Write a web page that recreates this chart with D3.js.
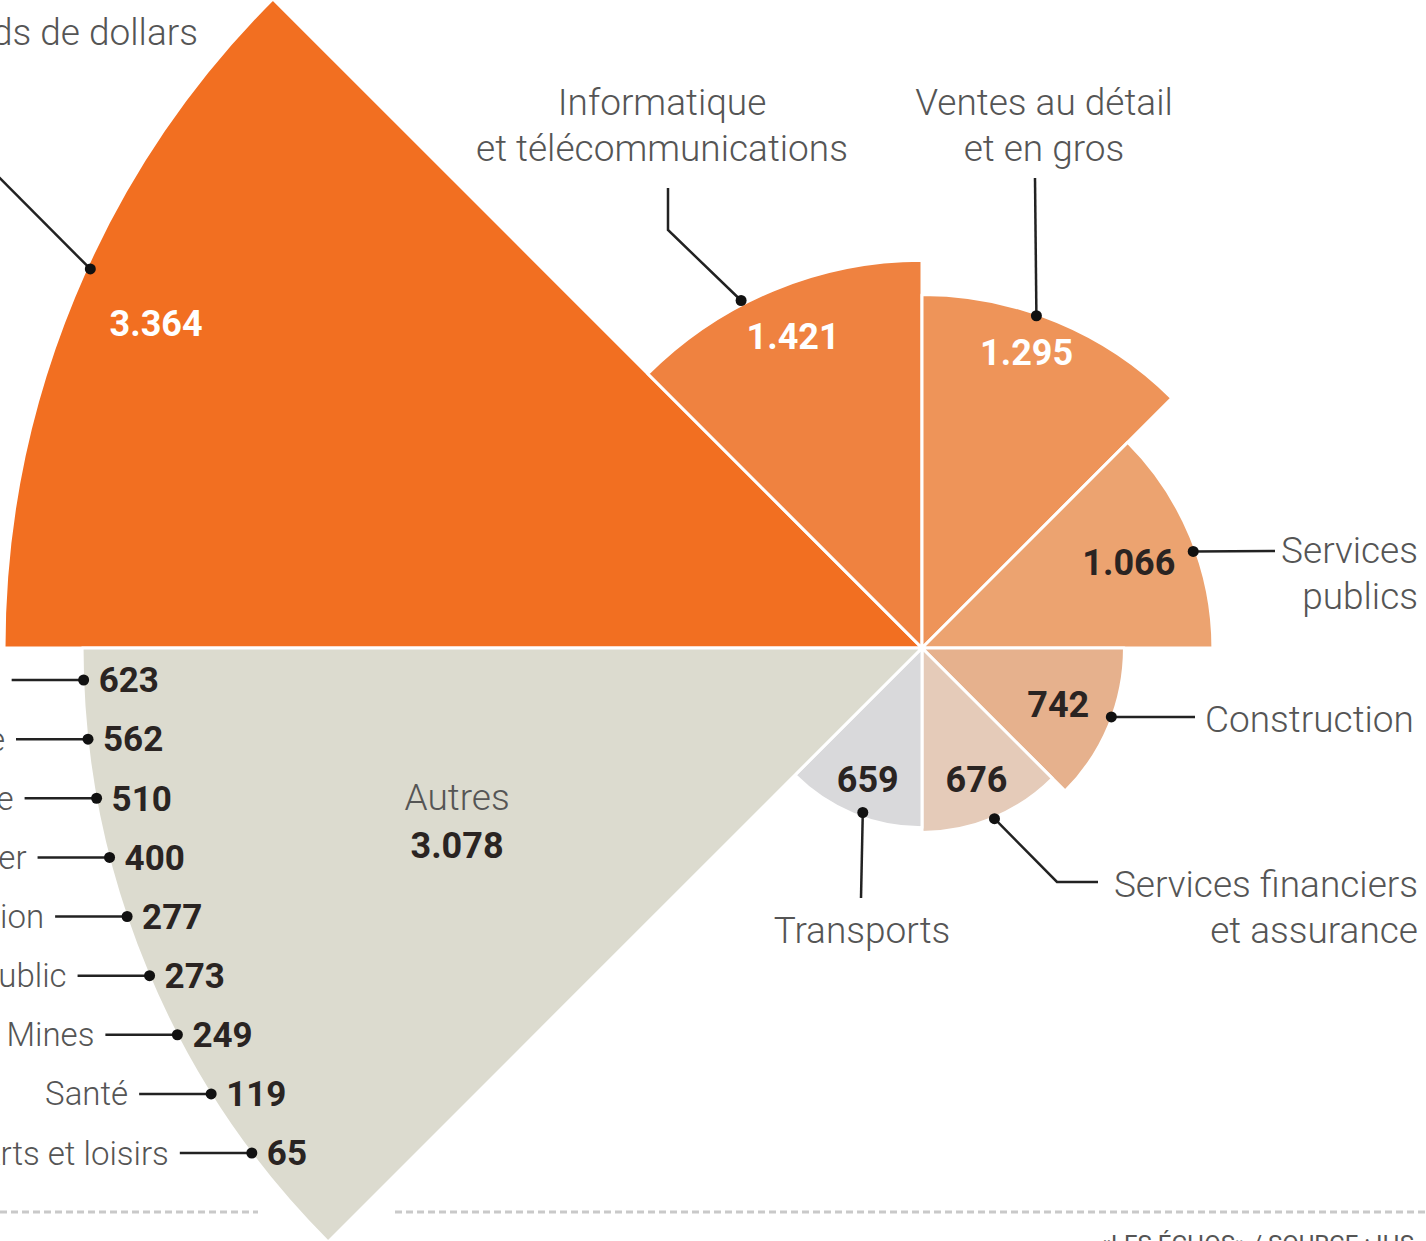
<!DOCTYPE html>
<html>
<head>
<meta charset="utf-8">
<script src="https://cdn.jsdelivr.net/npm/d3@7"></script>
<style>
  body { margin: 0; background: #fff; }
  svg { display: block; }
</style>
</head>
<body>
<div id="chart"></div>
<script>
// sectors, clockwise from 9 o'clock
const sectors = [
  "Industrie manufacturière",
  "Informatique et télécommunications",
  "Ventes au détail et en gros",
  "Services publics",
  "Construction",
  "Services financiers et assurance",
  "Transports",
  "Autres"
];
const values = [3364, 1421, 1295, 1066, 742, 676, 659, 3078];
const colors = ["#f26f21", "#ef8240", "#ee9459", "#eca370", "#e6b18d", "#e5cbb9", "#d9d9db", "#dcdbcf"];

// breakdown of "Autres"
const otherSectors = [
  "Services professionnels", "Agriculture", "Industrie chimique", "Immobilier",
  "Éducation", "Secteur public", "Mines", "Santé", "Arts et loisirs"
];
const otherValues = [623, 562, 510, 400, 277, 273, 249, 119, 65];

const width = 1426;
const height = 1241;
const cx = 922;
const cy = 648;

const font = "Roboto, 'Noto Sans', sans-serif";
const textGrey = "#555";
const dark = "#2a2422";

const fmt = d3.formatLocale({ decimal: ",", thousands: ".", grouping: [3] }).format(",");

const data = sectors.map((key, i) => ({ key, value: values[i], color: colors[i] }));

const r = d3.scaleLinear().domain([0, d3.max(values)]).range([0, 918]);
const angle = d3.scaleBand().domain(sectors).range([-Math.PI / 2, Math.PI * 1.5]);

const arc = d3.arc()
  .innerRadius(0)
  .outerRadius((d) => r(d.value))
  .startAngle((d) => angle(d.key))
  .endAngle((d) => angle(d.key) + angle.bandwidth());

const polar = (a, rad) => [cx + Math.sin(a) * rad, cy - Math.cos(a) * rad];
const mid = (d) => angle(d.key) + angle.bandwidth() / 2;

const svg = d3.select("#chart")
  .append("svg")
  .attr("width", width)
  .attr("height", height)
  .attr("font-family", font);

svg.append("g")
  .attr("transform", `translate(${cx},${cy})`)
  .selectAll("path")
  .data(data)
  .join("path")
  .attr("d", arc)
  .attr("fill", (d) => d.color)
  .attr("stroke", "#fff")
  .attr("stroke-width", 3)
  .attr("stroke-linejoin", "round");

// value labels inside wedges: distance in from the arc, small turn off the mid angle
const inset = [86, 51, 40, 67, 55, 42, 38];
const turn = [0.5, 0, -3, 0, 0, 0, 0];
const insideWhite = [true, true, true, false, false, false, false];
const labelPos = (d, i) => polar(mid(d) + (turn[i] * Math.PI) / 180, r(d.value) - inset[i]);

svg.append("g")
  .selectAll("text")
  .data(data.slice(0, 7))
  .join("text")
  .attr("x", (d, i) => labelPos(d, i)[0])
  .attr("y", (d, i) => labelPos(d, i)[1])
  .attr("dy", "0.35em")
  .attr("text-anchor", "middle")
  .attr("font-size", 36)
  .attr("font-weight", 700)
  .attr("fill", (d, i) => (insideWhite[i] ? "#fff" : dark))
  .text((d) => fmt(d.value));

// "Autres" label
const autres = data[7];
const [ax, ay] = polar(mid(autres), 500);
svg.append("text")
  .attr("x", ax - 3)
  .attr("y", ay - 42)
  .attr("dy", "0.35em")
  .attr("text-anchor", "middle")
  .attr("font-size", 37)
  .attr("font-weight", 300)
  .attr("fill", textGrey)
  .text("Autres");
svg.append("text")
  .attr("x", ax - 3)
  .attr("y", ay + 6)
  .attr("dy", "0.35em")
  .attr("text-anchor", "middle")
  .attr("font-size", 36)
  .attr("font-weight", 700)
  .attr("fill", dark)
  .text(fmt(autres.value));

// callouts for the outer labels
const callouts = [
  { deg: -65.5, dr: -4, route: [[-60, 118]], lines: [] },
  { deg: -27.5, dr: 4, route: [[668, 230], [668, 188]], lines: ["Informatique", "et télécommunications"], x: 662, y: 102, anchor: "middle" },
  { deg: 19, dr: -2, route: [[1035, 178]], lines: ["Ventes au détail", "et en gros"], x: 1044, y: 102, anchor: "middle" },
  { deg: 70.4, dr: -3, route: [[1275, 551]], lines: ["Services", "publics"], x: 1418, y: 550, anchor: "end" },
  { deg: 110, dr: -1, route: [[1195, 717]], lines: ["Construction"], x: 1205, y: 719, anchor: "start" },
  { deg: 157, dr: 1, route: [[1057, 882], [1098, 882]], lines: ["Services financiers", "et assurance"], x: 1418, y: 884, anchor: "end" },
  { deg: 199.8, dr: -5, route: [[861, 898]], lines: ["Transports"], x: 862, y: 930, anchor: "middle" }
];

const co = svg.append("g");
callouts.forEach((c, i) => {
  const d = data[i];
  const dot = polar((c.deg * Math.PI) / 180, r(d.value) + c.dr);
  co.append("path")
    .attr("d", d3.line()([dot, ...c.route]))
    .attr("fill", "none")
    .attr("stroke", "#222")
    .attr("stroke-width", 2.5);
  co.append("circle")
    .attr("cx", dot[0])
    .attr("cy", dot[1])
    .attr("r", 5.5)
    .attr("fill", "#111");
  c.lines.forEach((line, k) => {
    co.append("text")
      .attr("x", c.x)
      .attr("y", c.y + k * 46)
      .attr("dy", "0.35em")
      .attr("text-anchor", c.anchor)
      .attr("font-size", 37)
      .attr("font-weight", 300)
      .attr("fill", textGrey)
      .text(line);
  });
});

// breakdown list along the "Autres" arc
const R = r(autres.value);
const y = d3.scalePoint().domain(otherSectors).range([680, 1153]);
const edgeX = (yy) => cx - Math.sqrt(R * R - (yy - cy) * (yy - cy)) + 1;

const row = svg.append("g")
  .selectAll("g")
  .data(otherSectors.map((key, i) => ({ key, value: otherValues[i] })))
  .join("g")
  .attr("transform", (d) => `translate(${edgeX(y(d.key))},${y(d.key)})`);

row.append("line")
  .attr("x1", -72)
  .attr("x2", 0)
  .attr("stroke", "#222")
  .attr("stroke-width", 2.5);
row.append("circle").attr("r", 5.5).attr("fill", "#111");
row.append("text")
  .attr("x", -83)
  .attr("dy", "0.35em")
  .attr("text-anchor", "end")
  .attr("font-size", 33)
  .attr("font-weight", 300)
  .attr("fill", textGrey)
  .text((d) => d.key);
row.append("text")
  .attr("x", 15)
  .attr("dy", "0.35em")
  .attr("font-size", 35)
  .attr("font-weight", 700)
  .attr("fill", dark)
  .text((d) => fmt(d.value));

// unit note (cut at the left edge)
svg.append("text")
  .attr("x", 198)
  .attr("y", 32)
  .attr("dy", "0.35em")
  .attr("text-anchor", "end")
  .attr("font-size", 37)
  .attr("font-weight", 300)
  .attr("fill", textGrey)
  .text("En milliards de dollars");

// dotted rules + source
const rule = svg.append("g")
  .attr("stroke", "#c9c9c9")
  .attr("stroke-width", 3)
  .attr("stroke-dasharray", "7,4");
rule.append("line").attr("x1", 0).attr("x2", 258).attr("y1", 1212).attr("y2", 1212);
rule.append("line").attr("x1", 395).attr("x2", width).attr("y1", 1212).attr("y2", 1212);

svg.append("text")
  .attr("x", 1414)
  .attr("y", 1252)
  .attr("text-anchor", "end")
  .attr("font-size", 24)
  .attr("fill", textGrey)
  .text("«LES ÉCHOS» / SOURCE : IHS");
</script>
</body>
</html>
